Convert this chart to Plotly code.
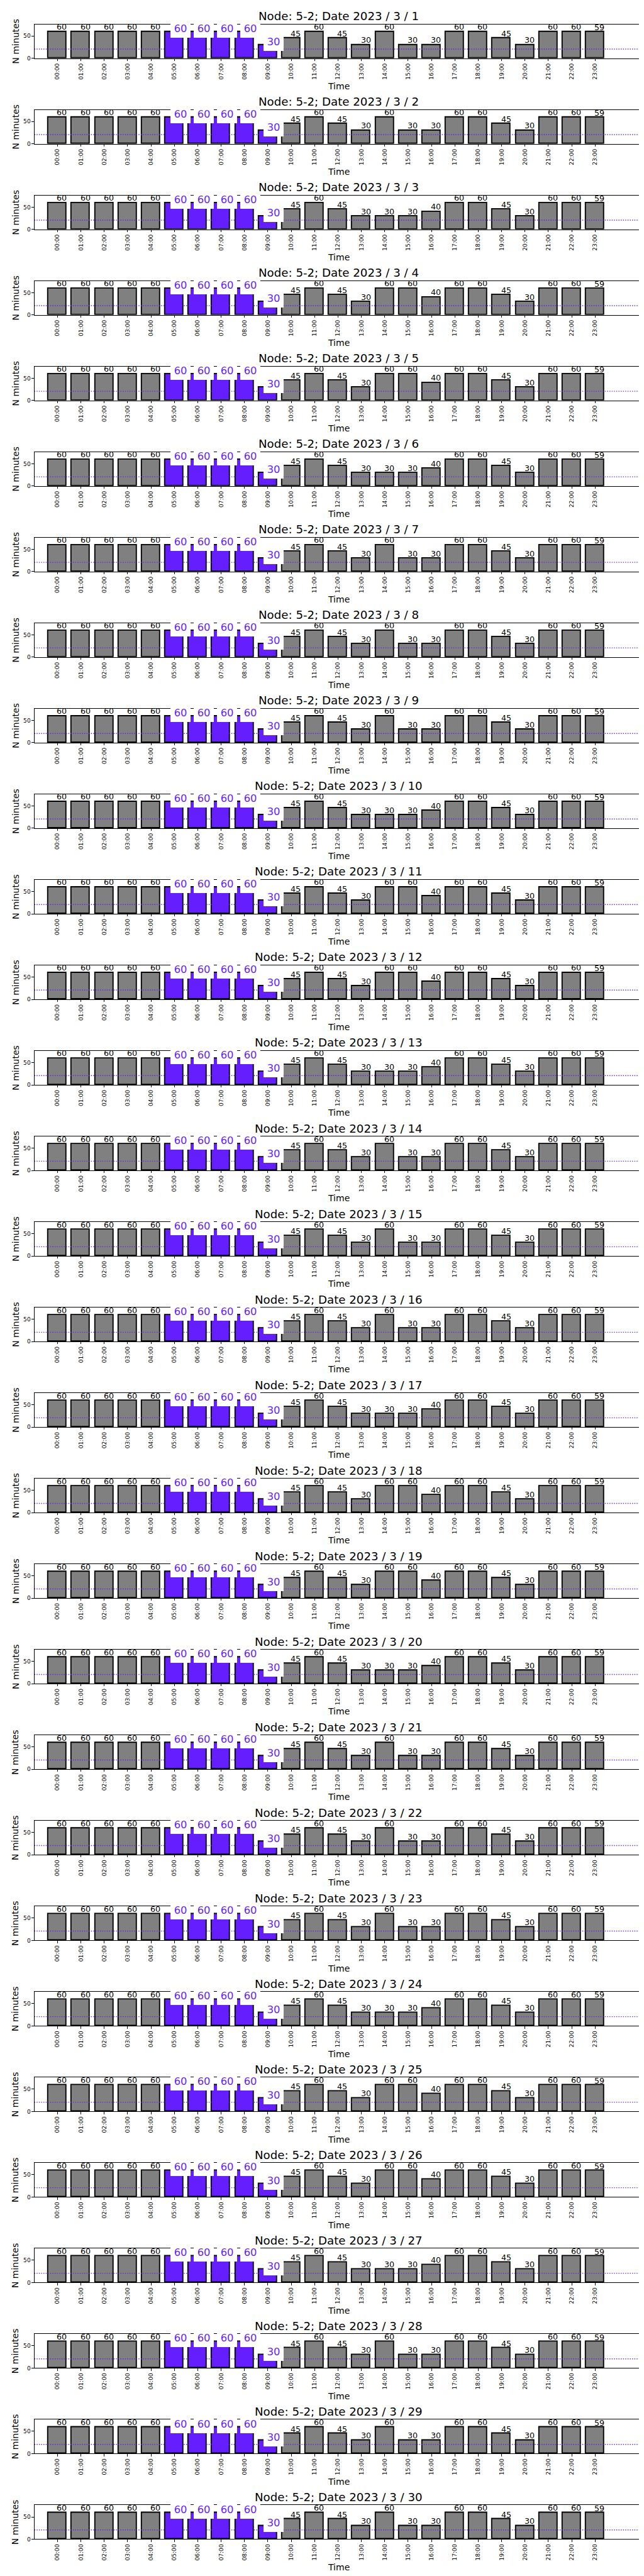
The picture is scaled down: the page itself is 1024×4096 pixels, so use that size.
import plotly.graph_objects as go

# ---------------- data ----------------
hour_labels = ["00:00", "01:00", "02:00", "03:00", "04:00", "05:00", "06:00", "07:00",
               "08:00", "09:00", "10:00", "11:00", "12:00", "13:00", "14:00", "15:00",
               "16:00", "17:00", "18:00", "19:00", "20:00", "21:00", "22:00", "23:00"]
hours = list(range(24))

# three daily profiles (they differ at 14:00-16:00)
profile_a = [60, 60, 60, 60, 60, 60, 60, 60, 60, 30, 45, 60, 45, 30, 60, 30, 30, 60, 60, 45, 30, 60, 60, 59]
profile_b = [60, 60, 60, 60, 60, 60, 60, 60, 60, 30, 45, 60, 45, 30, 30, 30, 40, 60, 60, 45, 30, 60, 60, 59]
profile_c = [60, 60, 60, 60, 60, 60, 60, 60, 60, 30, 45, 60, 45, 30, 60, 60, 40, 60, 60, 45, 30, 60, 60, 59]
profiles = {"A": profile_a, "B": profile_b, "C": profile_c}

days = list(range(1, 31))
day_profile = ["A", "A", "B", "C", "C", "B", "A", "A", "A", "B",
               "C", "C", "B", "A", "A", "A", "B", "C", "C", "B",
               "A", "A", "A", "B", "C", "C", "B", "A", "A", "A"]
highlight_hours = [5, 6, 7, 8, 9]
threshold = 20.8
node = "5-2"
year, month = 2023, 3

# ---------------- style ----------------
PURPLE = "#651FFF"
GRAY = "#808080"
FONT = "DejaVu Sans"
W, H = 1024, 4096
S = W / 1500.0

ax_left, ax_right = 68.4, 1485.0      # reference pixels
top0, ax_h, step = 45.0, 79.3, 199.5

fig = go.Figure()
annotations = []
shapes = []
layout_axes = {}

for k, day in enumerate(days):
    vals = profiles[day_profile[k]]
    sfx = "" if k == 0 else str(k + 1)
    xr, yr = "x" + sfx, "y" + sfx
    t = top0 + step * k
    b = t + ax_h
    ydom = [1 - b / 6000.0, 1 - t / 6000.0]
    xdom = [ax_left / 1500.0, ax_right / 1500.0]

    colors = [PURPLE if h in highlight_hours else GRAY for h in hours]
    fig.add_trace(go.Bar(
        x=hours, y=vals, width=0.78, xaxis=xr, yaxis=yr,
        marker=dict(color=colors, line=dict(color="black", width=1.85)),
        showlegend=False, hoverinfo="skip"))

    layout_axes["xaxis" + sfx] = dict(
        domain=xdom, anchor=yr, range=[-0.99, 25.03],
        tickmode="array", tickvals=hours, ticktext=hour_labels, tickangle=-90,
        ticks="outside", ticklen=3.2, tickwidth=1, tickcolor="black",
        tickfont=dict(family=FONT, size=9.1, color="black"),
        showline=True, linecolor="black", linewidth=1, mirror=True,
        showgrid=False, zeroline=False, fixedrange=True)
    layout_axes["yaxis" + sfx] = dict(
        domain=ydom, anchor=xr, range=[0, 76.2],
        tickmode="array", tickvals=[0, 50],
        ticks="outside", ticklen=3.2, tickwidth=1, tickcolor="black",
        tickfont=dict(family=FONT, size=9.1, color="black"),
        showline=True, linecolor="black", linewidth=1, mirror=True,
        showgrid=False, zeroline=False, fixedrange=True)

    shapes.append(dict(type="line", xref=xr + " domain", yref=yr, x0=0, x1=1,
                       y0=threshold, y1=threshold, layer="above",
                       line=dict(color=PURPLE, width=1.4, dash="1.4px,2.2px")))

    for h, v in zip(hours, vals):
        if h in highlight_hours:
            pad = 5.7
            annotations.append(dict(
                x=h, y=v, xref=xr, yref=yr, text=str(v), showarrow=False,
                xanchor="left", yanchor="bottom", xshift=-(pad + 1.0), yshift=-(pad + 3.9),
                bgcolor="white", borderpad=pad, borderwidth=0,
                font=dict(family=FONT, size=16.4, color=PURPLE)))
        else:
            annotations.append(dict(
                x=h, y=v, xref=xr, yref=yr, text=str(v), showarrow=False,
                xanchor="left", yanchor="bottom", xshift=-2, yshift=-1,
                borderpad=0, font=dict(family=FONT, size=12.7, color="black")))

    xc = (xdom[0] + xdom[1]) / 2
    annotations.append(dict(
        x=xc, y=ydom[1], xref="paper", yref="paper",
        text=f"Node: {node}; Date {year} / {month} / {day}", showarrow=False,
        xanchor="center", yanchor="bottom", yshift=1.5, borderpad=0,
        font=dict(family=FONT, size=18.2, color="black")))
    annotations.append(dict(
        x=24.5 / 1500.0, y=(ydom[0] + ydom[1]) / 2, xref="paper", yref="paper",
        text="N minutes", showarrow=False, textangle=-90,
        xanchor="center", yanchor="middle", borderpad=0,
        font=dict(family=FONT, size=14, color="black")))
    annotations.append(dict(
        x=xc, y=ydom[0], xref="paper", yref="paper",
        text="Time", showarrow=False, xanchor="center", yanchor="top",
        yshift=-35.2, borderpad=0,
        font=dict(family=FONT, size=14, color="black")))

fig.update_layout(
    width=W, height=H, autosize=False,
    margin=dict(l=0, r=0, t=0, b=0, pad=0),
    paper_bgcolor="white", plot_bgcolor="white",
    showlegend=False, bargap=0,
    annotations=annotations, shapes=shapes,
    **layout_axes)

fig.write_html("out.html")
